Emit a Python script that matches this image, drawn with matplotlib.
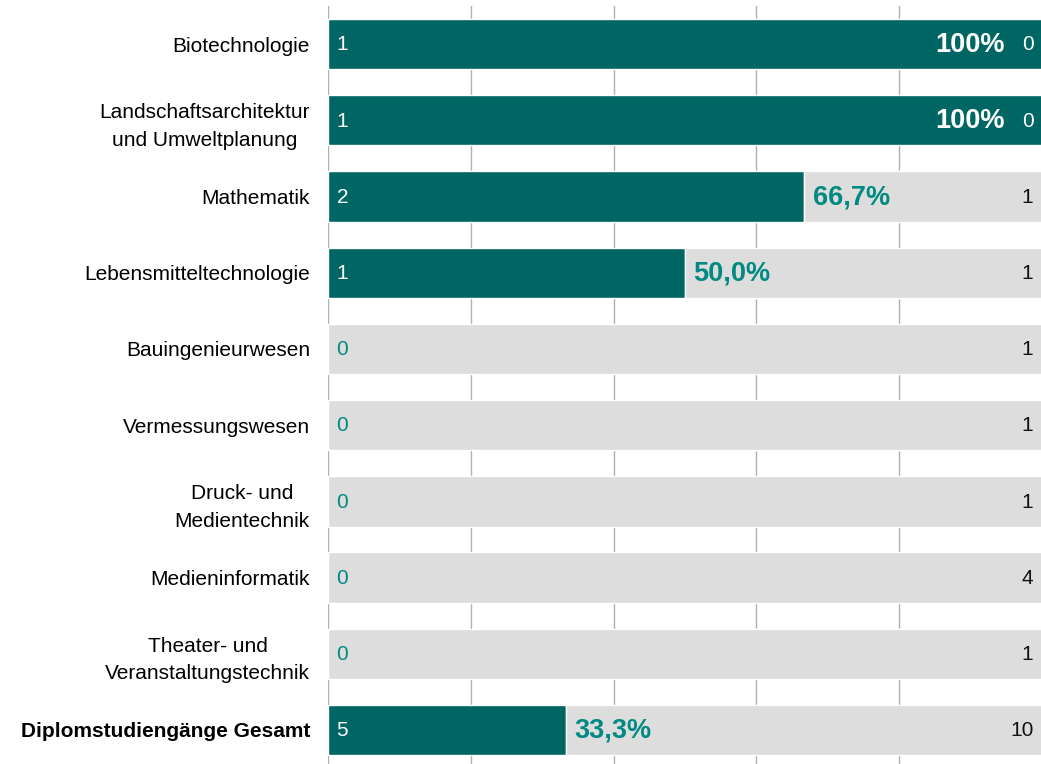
import matplotlib
matplotlib.use("Agg")
import matplotlib.pyplot as plt

plt.rcParams['font.family'] = ['Liberation Sans', 'DejaVu Sans']

labels = ["Biotechnologie", "Landschaftsarchitektur\nund Umweltplanung", "Mathematik",
          "Lebensmitteltechnologie", "Bauingenieurwesen", "Vermessungswesen",
          "Druck- und\nMedientechnik", "Medieninformatik",
          "Theater- und\nVeranstaltungstechnik", "Diplomstudiengänge Gesamt"]
yes = [1, 1, 2, 1, 0, 0, 0, 0, 0, 5]
no = [0, 0, 1, 1, 1, 1, 1, 4, 1, 10]

TEAL = "#006663"
TEAL_TXT = "#008a82"
GRAY = "#dddddd"

fig = plt.figure(figsize=(10.41, 7.64), dpi=100)
W, H = 1041, 764
ax = fig.add_axes([328 / W, 0, 714 / W, 758 / H])

n = len(labels)
ax.set_xlim(0, 1)
ax.set_ylim(9 + (764 - 730) / 76.2, -0.5)

for x in [0, 0.2, 0.4, 0.6, 0.8, 1.0]:
    ax.axvline(x, color="#b0b0b0", lw=1, zorder=0)

for i in range(n):
    tot = yes[i] + no[i]
    share = yes[i] / tot
    ax.barh(i, share, height=0.66, color=TEAL, edgecolor="white", lw=1, zorder=2)
    ax.barh(i, 1 - share, left=share, height=0.66, color=GRAY, edgecolor="white", lw=1, zorder=2)
    # count of yes at left
    ax.text(0.012, i + 0.01, str(yes[i]), va="center", ha="left", fontsize=15,
            color="white" if yes[i] > 0 else TEAL_TXT, zorder=3)
    # count of no at right
    ax.text(0.988, i + 0.01, str(no[i]), va="center", ha="right", fontsize=15,
            color="white" if share >= 1 else "#111111", zorder=3)
    if share >= 1:
        ax.text(0.948, i + 0.01, "100%", va="center", ha="right", fontsize=19.5,
                fontweight="bold", color="white", zorder=3)
    elif share > 0:
        txt = f"{share * 100:.1f}%".replace(".", ",")
        ax.text(share + 0.012, i + 0.01, txt, va="center", ha="left", fontsize=19.5,
                fontweight="bold", color=TEAL_TXT, zorder=3)

ax.set_yticks(range(n))
ax.set_yticklabels(labels, fontsize=15, multialignment="center", linespacing=1.55)
ax.get_yticklabels()[-1].set_fontweight("bold")
ax.tick_params(axis="y", length=0, pad=13)
ax.tick_params(axis="x", length=0, labelbottom=False)
for s in ax.spines.values():
    s.set_visible(False)

fig.savefig("out.png", dpi=100)
